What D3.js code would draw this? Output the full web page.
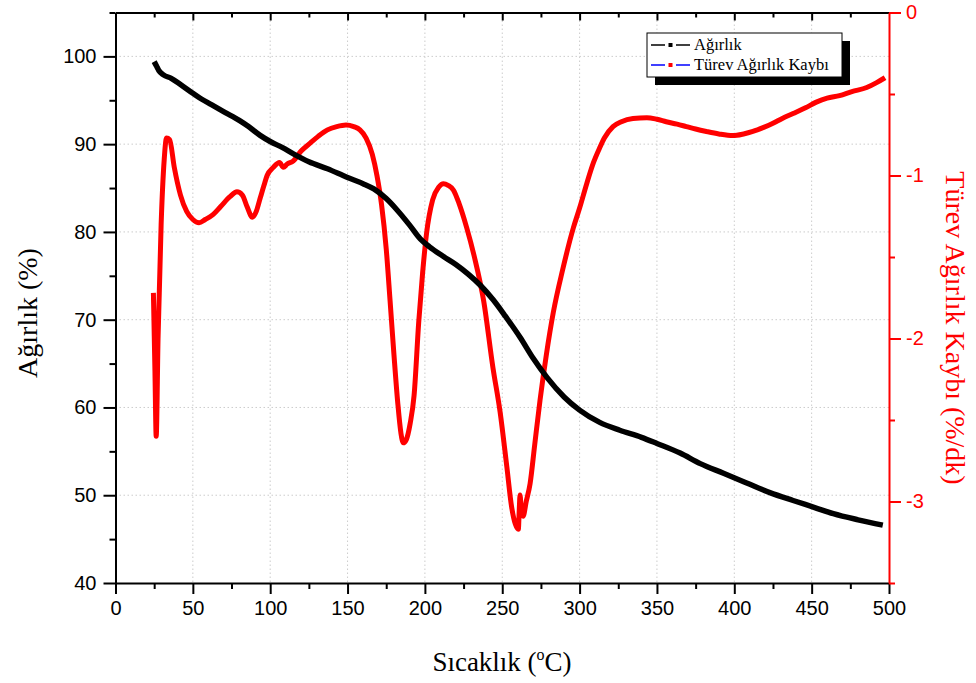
<!DOCTYPE html>
<html>
<head>
<meta charset="utf-8">
<script src="https://cdn.jsdelivr.net/npm/d3@7/dist/d3.min.js"></script>
<style>
  body { margin: 0; background: #fff; }
  .tick text { font-family: "Liberation Sans", Arial, sans-serif; font-size: 20px; }
</style>
</head>
<body>
<svg id="chart" width="976" height="683"></svg>
<script>
// temperature (°C) and weight (%) of the TG curve
var tgTemp = [25, 26.5, 28, 31, 36, 42, 50, 55, 62, 71, 80, 86, 93.5, 100, 108, 115, 125, 137, 150, 160,
  167, 175, 182, 190, 197, 203, 212, 220, 228, 236, 244, 252, 261.5, 270, 279, 290, 300, 313, 326, 340,
  350, 365, 378, 393, 408, 423, 438, 452, 464, 480, 496];
var tgWeight = [99.4, 98.9, 98.4, 97.9, 97.5, 96.8, 95.8, 95.2, 94.5, 93.6, 92.7, 92.0, 91.0, 90.3, 89.6, 88.9, 88.0, 87.2, 86.2, 85.5,
  84.9, 83.8, 82.5, 80.8, 79.2, 78.3, 77.2, 76.3, 75.2, 73.9, 72.3, 70.4, 68.0, 65.6, 63.4, 61.2, 59.7, 58.3, 57.4, 56.6,
  55.9, 54.8, 53.6, 52.5, 51.4, 50.3, 49.4, 48.6, 47.9, 47.2, 46.6];

// temperature (°C) and derivative weight loss (%/dk) of the DTG curve
var dtgTemp = [24.5, 25.5, 26.3, 27.5, 29.5, 31.5, 33, 35, 38, 42, 46, 50, 54, 58, 63, 68, 74, 78.5, 82, 85,
  88.5, 91, 93.5, 96, 98, 102, 106, 108.5, 111, 115, 120, 126, 131, 137, 143, 149, 154, 158, 162, 166,
  169, 172, 175, 177.5, 180, 182.5, 184.5, 186, 188, 190.5, 193, 196, 198.5, 201, 205, 209, 212, 215, 218.5, 222,
  227, 232, 238, 244, 248.6, 253, 256, 258.5, 260.4, 261, 261.5, 262.3, 263.5, 265.5, 268, 271, 274.4, 278.5, 283, 289,
  296, 300, 304.6, 309, 313, 316, 321.6, 327, 334.5, 343.5, 350, 356, 363, 369, 375, 382, 390, 399, 406, 412,
  419, 425, 431, 438, 446, 453, 460, 468, 476, 485.6, 492, 497.4];
var dtgValue = [-1.72, -2.20, -2.60, -2.0, -1.3, -0.9, -0.77, -0.78, -0.95, -1.12, -1.22, -1.27, -1.29, -1.27, -1.24, -1.19, -1.13, -1.10, -1.12, -1.19,
  -1.256, -1.22, -1.14, -1.06, -1.00, -0.95, -0.92, -0.95, -0.93, -0.91, -0.85, -0.80, -0.76, -0.72, -0.70, -0.69, -0.70, -0.72, -0.77, -0.87,
  -1.00, -1.18, -1.45, -1.77, -2.10, -2.40, -2.58, -2.64, -2.62, -2.52, -2.35, -1.90, -1.60, -1.36, -1.15, -1.07, -1.05, -1.06, -1.09, -1.17,
  -1.32, -1.50, -1.77, -2.18, -2.45, -2.79, -3.03, -3.14, -3.17, -3.05, -2.96, -3.05, -3.09, -3.0, -2.89, -2.65, -2.38, -2.10, -1.84, -1.58,
  -1.32, -1.20, -1.05, -0.92, -0.83, -0.77, -0.70, -0.67, -0.65, -0.645, -0.655, -0.67, -0.685, -0.70, -0.715, -0.73, -0.745, -0.755, -0.745, -0.73,
  -0.705, -0.68, -0.65, -0.62, -0.585, -0.55, -0.525, -0.51, -0.485, -0.46, -0.43, -0.40];

var xTicks = [0, 50, 100, 150, 200, 250, 300, 350, 400, 450, 500];
var yTicks = [40, 50, 60, 70, 80, 90, 100];
var y2Ticks = [0, -1, -2, -3];
var legendNames = ["Ağırlık", "Türev Ağırlık Kaybı"];

var svg = d3.select("#chart");
var pLeft = 115.5, pRight = 889, pTop = 12.5, pBottom = 583;

var x = d3.scaleLinear().domain([0, 500]).range([pLeft, pRight]);
var y = d3.scaleLinear().domain([40, 105]).range([pBottom, pTop]);
var y2 = d3.scaleLinear().domain([-3.5, 0]).range([pBottom, pTop]);

// grid
var grid = svg.append("g").attr("stroke", "#cccccc").attr("stroke-width", 1).attr("stroke-dasharray", "1.5,2.5");
xTicks.slice(1, -1).forEach(function(t) {
  grid.append("line").attr("x1", x(t)).attr("x2", x(t)).attr("y1", pTop).attr("y2", pBottom);
});
yTicks.slice(1).forEach(function(t) {
  grid.append("line").attr("x1", pLeft).attr("x2", pRight).attr("y1", y(t)).attr("y2", y(t));
});

// curves
var tgLine = d3.line().x(function(d) { return x(d[0]); }).y(function(d) { return y(d[1]); }).curve(d3.curveMonotoneX);
var dtgLine = d3.line().x(function(d) { return x(d[0]); }).y(function(d) { return y2(d[1]); }).curve(d3.curveMonotoneX);

svg.append("path")
  .datum(dtgTemp.map(function(t, i) { return [t, dtgValue[i]]; }))
  .attr("d", dtgLine).attr("fill", "none").attr("stroke", "#ff0000").attr("stroke-width", 5).attr("stroke-linejoin", "round");
svg.append("path")
  .datum(tgTemp.map(function(t, i) { return [t, tgWeight[i]]; }))
  .attr("d", tgLine).attr("fill", "none").attr("stroke", "#000").attr("stroke-width", 5.5).attr("stroke-linejoin", "round");

// axes
function minor(arr) {
  var out = [];
  for (var i = 0; i < arr.length - 1; i++) out.push((arr[i] + arr[i + 1]) / 2);
  return out;
}
var xMinor = minor(xTicks);
var yMinor = minor(yTicks).concat([105]);
var y2Minor = [-0.5, -1.5, -2.5, -3.5];

function styleAxis(g, color) {
  g.select(".domain").attr("stroke", color).attr("stroke-width", 2);
  g.selectAll(".tick line").attr("stroke", color).attr("stroke-width", 2);
  g.selectAll(".tick text").attr("fill", color);
}

var gx = svg.append("g").attr("transform", "translate(0," + pBottom + ")")
  .call(d3.axisBottom(x).tickValues(xTicks).tickSize(11).tickSizeOuter(0).tickPadding(7).tickFormat(d3.format("d")));
styleAxis(gx, "#000");
svg.append("g").attr("transform", "translate(0," + pBottom + ")")
  .call(d3.axisBottom(x).tickValues(xMinor).tickSize(6).tickFormat(""))
  .call(function(g) { g.select(".domain").remove(); styleAxis(g, "#000"); });

var gTop = svg.append("g").attr("transform", "translate(0," + pTop + ")")
  .call(d3.axisBottom(x).tickValues(xTicks.slice(1, -1)).tickSize(8).tickSizeOuter(0).tickFormat(""));
styleAxis(gTop, "#000");
svg.append("g").attr("transform", "translate(0," + pTop + ")")
  .call(d3.axisBottom(x).tickValues(xMinor).tickSize(5).tickFormat(""))
  .call(function(g) { g.select(".domain").remove(); styleAxis(g, "#000"); });

var gy = svg.append("g").attr("transform", "translate(" + pLeft + ",0)")
  .call(d3.axisLeft(y).tickValues(yTicks).tickSize(12).tickSizeOuter(0).tickPadding(7));
styleAxis(gy, "#000");
svg.append("g").attr("transform", "translate(" + pLeft + ",0)")
  .call(d3.axisLeft(y).tickValues(yMinor).tickSize(6).tickFormat(""))
  .call(function(g) { g.select(".domain").remove(); styleAxis(g, "#000"); });

var gy2 = svg.append("g").attr("transform", "translate(" + pRight + ",0)")
  .call(d3.axisRight(y2).tickValues(y2Ticks).tickSize(12).tickSizeOuter(0).tickPadding(5).tickFormat(d3.format("d")));
styleAxis(gy2, "#ff0000");
svg.append("g").attr("transform", "translate(" + pRight + ",0)")
  .call(d3.axisRight(y2).tickValues(y2Minor).tickSize(6).tickFormat(""))
  .call(function(g) { g.select(".domain").remove(); styleAxis(g, "#ff0000"); });
gy2.selectAll(".tick text").text(function(d) { return d === 0 ? "0" : "-" + Math.abs(d); });

// axis titles
var serif = "'Liberation Serif', 'Times New Roman', serif";
svg.append("text").attr("transform", "translate(37,313) rotate(-90)")
  .attr("text-anchor", "middle").attr("font-family", serif).attr("font-size", 28).text("Ağırlık (%)");
svg.append("text").attr("transform", "translate(946,328) rotate(90)")
  .attr("text-anchor", "middle").attr("font-family", serif).attr("font-size", 28).attr("fill", "#ff0000")
  .text("Türev Ağırlık Kaybı (%/dk)");
var xt = svg.append("text").attr("x", 502).attr("y", 671)
  .attr("text-anchor", "middle").attr("font-family", serif).attr("font-size", 27);
xt.append("tspan").text("Sıcaklık (");
xt.append("tspan").attr("dy", -11).attr("font-size", 16).text("o");
xt.append("tspan").attr("dy", 11).text("C)");

// legend
var lg = svg.append("g").attr("transform", "translate(647,33)");
lg.append("rect").attr("x", 8).attr("y", 8).attr("width", 195).attr("height", 44).attr("fill", "#000");
lg.append("rect").attr("width", 195).attr("height", 44).attr("fill", "#fff").attr("stroke", "#000").attr("stroke-width", 1);
var lineCols = ["#000", "#0000ff"], dotCols = ["#000", "#ff0000"];
legendNames.forEach(function(name, i) {
  var yy = 12 + i * 20;
  lg.append("line").attr("x1", 4).attr("x2", 18).attr("y1", yy).attr("y2", yy).attr("stroke", lineCols[i]).attr("stroke-width", 1.5);
  lg.append("line").attr("x1", 29).attr("x2", 43).attr("y1", yy).attr("y2", yy).attr("stroke", lineCols[i]).attr("stroke-width", 1.5);
  lg.append("rect").attr("x", 21.5).attr("y", yy - 2).attr("width", 4).attr("height", 4).attr("fill", dotCols[i]);
  lg.append("text").attr("x", 47).attr("y", yy + 5).attr("font-family", serif).attr("font-size", 16.5).text(name);
});
</script>
</body>
</html>
